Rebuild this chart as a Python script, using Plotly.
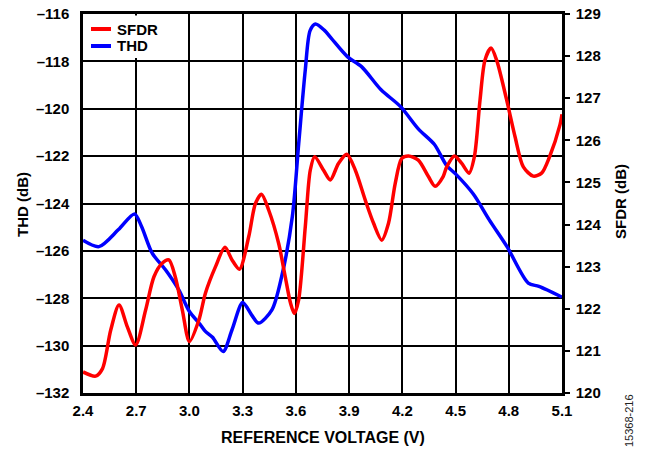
import plotly.graph_objects as go

# THD (left axis, dB)
thd_v = [2.40, 2.49, 2.60, 2.69, 2.73, 2.79, 2.865, 2.94, 3.00, 3.06, 3.09, 3.13,
         3.19, 3.24, 3.30, 3.35, 3.39, 3.465, 3.52, 3.58, 3.616, 3.653, 3.68, 3.71,
         3.76, 3.80, 3.89, 3.97, 4.08, 4.19, 4.29, 4.38, 4.45, 4.50, 4.60, 4.69,
         4.79, 4.91, 4.97, 5.10]
thd_db = [-125.55, -125.82, -125.10, -124.44, -124.97, -126.10, -126.80, -127.65,
          -128.56, -129.10, -129.40, -129.65, -130.25, -129.33, -128.18, -128.70,
          -129.05, -128.49, -127.08, -124.55, -121.46, -118.36, -116.70, -116.42,
          -116.68, -117.03, -117.80, -118.22, -119.20, -119.91, -120.85, -121.50,
          -122.40, -122.75, -123.60, -124.69, -125.82, -127.36, -127.50, -127.95]

# SFDR (right axis, dB)
sfdr_v = [2.40, 2.471, 2.51, 2.556, 2.603, 2.65, 2.697, 2.753, 2.80, 2.846, 2.884,
          2.92, 2.96, 3.00, 3.053, 3.09, 3.147, 3.20, 3.24, 3.282, 3.334, 3.372,
          3.406, 3.447, 3.503, 3.54, 3.57, 3.591, 3.615, 3.653, 3.681, 3.706, 3.756,
          3.794, 3.84, 3.887, 3.935, 3.991, 4.038, 4.084, 4.122, 4.16, 4.197, 4.235,
          4.29, 4.347, 4.385, 4.43, 4.45, 4.494, 4.535, 4.576, 4.606, 4.638, 4.666,
          4.70, 4.731, 4.788, 4.835, 4.882, 4.938, 4.985, 5.03, 5.088, 5.10]
sfdr_db = [120.50, 120.40, 120.58, 121.49, 122.09, 121.57, 121.14, 121.97, 122.76,
           123.08, 123.16, 122.76, 121.97, 121.22, 121.73, 122.37, 123.00, 123.46,
           123.16, 122.94, 123.71, 124.50, 124.72, 124.34, 123.55, 122.76, 122.13,
           121.89, 122.20, 123.95, 125.29, 125.61, 125.29, 125.06, 125.45, 125.67,
           125.29, 124.58, 124.03, 123.63, 124.03, 124.98, 125.57, 125.63, 125.53,
           125.14, 124.91, 125.14, 125.37, 125.63, 125.45, 125.22, 125.61, 126.96,
           127.91, 128.19, 127.91, 126.96, 126.09, 125.37, 125.15, 125.22, 125.61,
           126.36, 126.62]

series_names = ["SFDR", "THD"]
series_colors = ["#FF0000", "#0000FF"]

x_ticks = [2.4, 2.7, 3.0, 3.3, 3.6, 3.9, 4.2, 4.5, 4.8, 5.1]
x_labels = ["2.4", "2.7", "3.0", "3.3", "3.6", "3.9", "4.2", "4.5", "4.8", "5.1"]
thd_ticks = [-116, -118, -120, -122, -124, -126, -128, -130, -132]
thd_labels = ["–116", "–118", "–120", "–122", "–124", "–126", "–128", "–130", "–132"]
sfdr_ticks = [120, 121, 122, 123, 124, 125, 126, 127, 128, 129]

FONT = "Liberation Sans, Arial, sans-serif"
W, H = 646, 451
ML, MR, MT, MB = 83, 84, 14, 58
PW, PH = W - ML - MR, H - MT - MB


def px(xp):
    return (xp - ML) / PW


def py(yp):
    return (H - MB - yp) / PH


fig = go.Figure()
fig.add_trace(go.Scatter(x=sfdr_v, y=sfdr_db, name=series_names[0], yaxis="y2",
                         mode="lines", line=dict(color=series_colors[0], width=3.5,
                                                 shape="spline", smoothing=0.8)))
fig.add_trace(go.Scatter(x=thd_v, y=thd_db, name=series_names[1], yaxis="y",
                         mode="lines", line=dict(color=series_colors[1], width=3.5,
                                                 shape="spline", smoothing=0.8)))

tickfont = dict(family=FONT, size=15, weight="bold", color="black")

fig.update_layout(
    width=W, height=H,
    margin=dict(l=ML, r=MR, t=MT, b=MB, autoexpand=False),
    paper_bgcolor="white", plot_bgcolor="white",
    font=dict(family=FONT, color="black", size=14),
    showlegend=False,
    xaxis=dict(range=[2.4, 5.1], tickvals=x_ticks, ticktext=x_labels,
               showgrid=True, gridcolor="black", gridwidth=1.5,
               showline=True, linecolor="black", linewidth=2.5, mirror=True,
               ticks="", zeroline=False, automargin=False,
               ticklabelstandoff=2, tickfont=tickfont),
    yaxis=dict(range=[-132, -116], tickvals=thd_ticks, ticktext=thd_labels,
               showgrid=True, gridcolor="black", gridwidth=1.5,
               showline=True, linecolor="black", linewidth=2.5, mirror=True,
               ticks="", zeroline=False, automargin=False,
               ticklabelstandoff=8, tickfont=tickfont),
    yaxis2=dict(range=[120, 129], tickvals=sfdr_ticks, overlaying="y", side="right",
                showgrid=False, zeroline=False, showline=True, linecolor="black",
                linewidth=2.5, ticks="outside", ticklen=5, tickwidth=1.5,
                tickcolor="black", automargin=False, ticklabelstandoff=3,
                tickfont=tickfont),
)

# axis titles
fig.add_annotation(text="REFERENCE VOLTAGE (V)", xref="paper", yref="paper",
                   x=px(323), y=py(437), xanchor="center", yanchor="middle",
                   showarrow=False,
                   font=dict(family=FONT, size=16, weight="bold", color="black"))
fig.add_annotation(text="THD (dB)", xref="paper", yref="paper",
                   x=px(22), y=py(204), xanchor="center", yanchor="middle",
                   showarrow=False, textangle=-90,
                   font=dict(family=FONT, size=15, weight="bold", color="black"))
fig.add_annotation(text="SFDR (dB)", xref="paper", yref="paper",
                   x=px(620), y=py(202), xanchor="center", yanchor="middle",
                   showarrow=False, textangle=-90,
                   font=dict(family=FONT, size=15, weight="bold", color="black"))
fig.add_annotation(text="15368-216", xref="paper", yref="paper",
                   x=px(629), y=py(421), xanchor="center", yanchor="middle",
                   showarrow=False, textangle=-90,
                   font=dict(family=FONT, size=11, color="#222222"))

# legend (drawn manually: white box, short line samples, labels)
fig.add_shape(type="rect", xref="paper", yref="paper",
              x0=px(85), x1=px(165), y0=py(58), y1=py(15.5),
              fillcolor="white", line=dict(width=0), layer="above")
for i, (name, col) in enumerate(zip(series_names, series_colors)):
    yy = 29 + 17 * i
    fig.add_shape(type="line", xref="paper", yref="paper",
                  x0=px(91), x1=px(111), y0=py(yy), y1=py(yy),
                  line=dict(color=col, width=4), layer="above")
    fig.add_annotation(text=name, xref="paper", yref="paper",
                       x=px(116), y=py(yy), xanchor="left", yanchor="middle",
                       showarrow=False, borderpad=0,
                       font=dict(family=FONT, size=15, weight="bold", color="black"))

fig.write_html("out.html", config={"displayModeBar": False},
               post_script="document.body.style.margin='0px';"
                           "document.body.style.overflow='hidden';")
